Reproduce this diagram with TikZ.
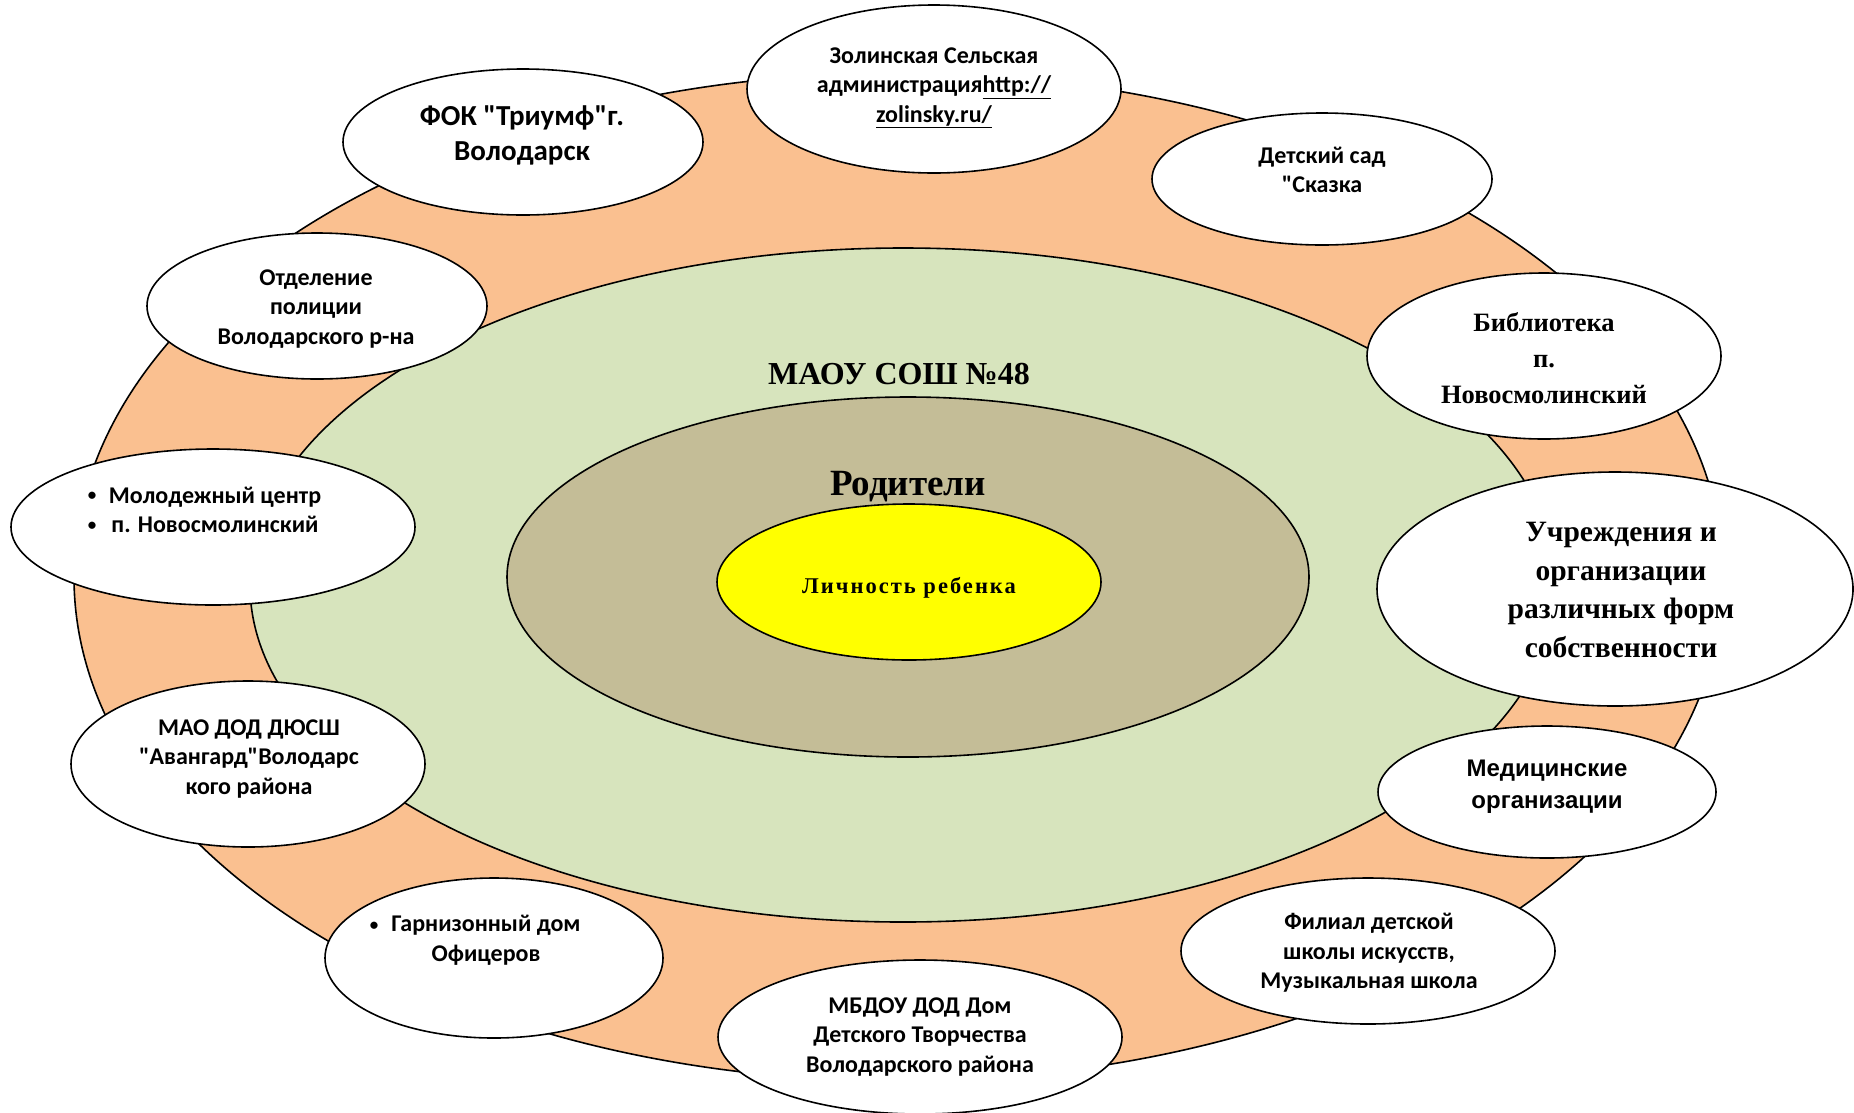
\documentclass[tikz,border=0pt]{standalone}
\usepackage{fontspec}
\setmainfont{Carlito}[Ligatures=TeXOff]
\newfontfamily\serifb{Liberation Serif}
\newfontfamily\arialb{Liberation Sans}
\newfontfamily\serifls[LetterSpace=9]{Liberation Serif}
\usetikzlibrary{shapes.geometric}
\definecolor{orangering}{HTML}{FAC090}
\definecolor{greenring}{HTML}{D7E4BD}
\definecolor{tanring}{HTML}{C4BD97}
\definecolor{yellowcore}{HTML}{FFFF00}
\tikzset{
  ring/.style={ellipse, draw=black, line width=1.6pt, inner sep=0pt},
  sat/.style={ellipse, draw=black, fill=white, line width=1.6pt, inner sep=0pt},
  lbl/.style={align=center, text=black, inner sep=0pt, font=\fontsize{24}{29.5}\selectfont\bfseries},
  serlbl/.style={align=center, text=black, inner sep=0pt, font=\serifb\fontsize{26.5}{36}\selectfont\bfseries},
  bul/.style={text=black, inner sep=0pt, font=\fontsize{17}{20}\selectfont\bfseries}
}
\begin{document}
\begin{tikzpicture}[x=1pt,y=-1pt]
\useasboundingbox (0,0) rectangle (1854,1112);
% rings
\node[ring, fill=orangering, minimum width=1649, minimum height=1008] (outer) at (898.5,577) {};
\node[ring, fill=greenring, minimum width=1306, minimum height=674] (school) at (903,585) {};
\node[ring, fill=tanring, minimum width=802, minimum height=360] (parents) at (908,577) {};
\node[ring, fill=yellowcore, minimum width=384, minimum height=156] (child) at (909,582) {};
\node[serlbl, font=\serifb\fontsize{32}{38}\selectfont\bfseries] (tschool) at (899,374) {МАОУ СОШ №48};
\node[serlbl, font=\serifb\fontsize{37}{44}\selectfont\bfseries] (tparents) at (908,487) {Родители};
\node[serlbl, font=\serifls\fontsize{22.5}{26}\selectfont\bfseries] (tchild) at (909,588) {Личность ребенка};
% satellites
\node[sat, minimum width=374, minimum height=168] (s1) at (934,89) {};
\node[sat, minimum width=360, minimum height=146] (s2) at (523,142) {};
\node[sat, minimum width=340, minimum height=132] (s3) at (1322,179) {};
\node[sat, minimum width=340, minimum height=146] (s4) at (317,306) {};
\node[sat, minimum width=354, minimum height=166] (s5) at (1544,356) {};
\node[sat, minimum width=404, minimum height=156] (s6) at (213,527) {};
\node[sat, minimum width=476, minimum height=234] (s7) at (1615,589) {};
\node[sat, minimum width=354, minimum height=166] (s8) at (248,764) {};
\node[sat, minimum width=338, minimum height=132] (s9) at (1547,792) {};
\node[sat, minimum width=338, minimum height=160] (s10) at (494,958) {};
\node[sat, minimum width=374, minimum height=146] (s11) at (1368,951) {};
\node[sat, minimum width=404, minimum height=154] (s12) at (920,1037) {};
% labels
\node[lbl] (t1) at (934,88) {Золинская Сельская\\администрация\underline{http://}\\\underline{zolinsky.ru/}};
\node[lbl, font=\fontsize{29}{35}\selectfont\bfseries] (t2) at (522,135) {ФОК "Триумф"г.\\Володарск};
\node[lbl] (t3) at (1322,170) {Детский сад\\"Сказка};
\node[lbl] (t4) at (316,309) {Отделение\\полиции\\Володарского р-на};
\node[serlbl] (t5) at (1544,358) {Библиотека\\п.\\Новосмолинский};
\node[bul] (b6a) at (92,496) {•};
\node[bul] (b6b) at (92,526) {•};
\node[lbl] (t6) at (215,510) {Молодежный центр\\п. Новосмолинский};
\node[serlbl, font=\serifb\fontsize{29.5}{38.7}\selectfont\bfseries] (t7) at (1621,590) {Учреждения и\\организации\\различных форм\\собственности};
\node[lbl] (t8) at (249,759) {МАО ДОД ДЮСШ\\"Авангард"Володарс\\кого района};
\node[lbl, font=\arialb\fontsize{24}{32}\selectfont\bfseries] (t9) at (1547,787) {Медицинские\\организации};
\node[bul] (b10) at (374,926) {•};
\node[lbl] (t10) at (486,940) {Гарнизонный дом\\Офицеров};
\node[lbl] (t11) at (1369,953) {Филиал детской\\школы искусств,\\Музыкальная школа};
\node[lbl] (t12) at (920,1037) {МБДОУ ДОД Дом\\Детского Творчества\\Володарского района};
\end{tikzpicture}
\end{document}
